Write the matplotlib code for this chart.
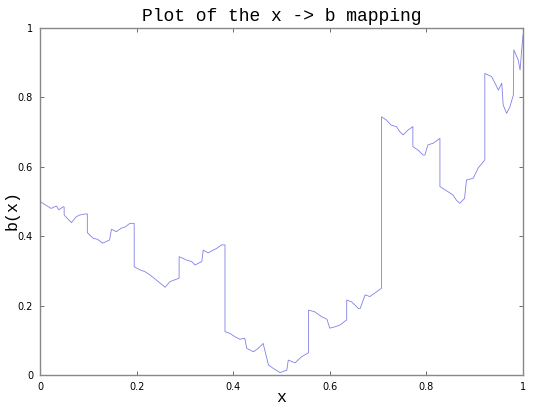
import matplotlib
matplotlib.use("Agg")
import matplotlib.pyplot as plt

# Data (step-like fractal curve)
x_vals = [0.000, 0.023, 0.034, 0.039, 0.048, 0.050, 0.050, 0.065, 0.075, 0.082, 0.093, 0.098, 0.098,
          0.110, 0.119, 0.130, 0.144, 0.148, 0.158, 0.168, 0.177, 0.186, 0.195, 0.195,
          0.207, 0.217, 0.228, 0.245, 0.259, 0.269, 0.288, 0.288, 0.304, 0.314, 0.321, 0.335,
          0.338, 0.348, 0.359, 0.366, 0.376, 0.383, 0.383,
          0.393, 0.404, 0.414, 0.424, 0.428, 0.442, 0.452, 0.462, 0.473, 0.483, 0.497,
          0.511, 0.514, 0.528, 0.542, 0.556, 0.556, 0.569, 0.583, 0.594, 0.600, 0.611, 0.621,
          0.635, 0.635, 0.645, 0.659, 0.663, 0.673, 0.683, 0.697, 0.707, 0.707,
          0.717, 0.727, 0.738, 0.745, 0.752, 0.762, 0.772, 0.772, 0.783, 0.793, 0.797, 0.803,
          0.814, 0.828, 0.828, 0.845, 0.855, 0.862, 0.869, 0.879, 0.883, 0.897, 0.907,
          0.921, 0.921, 0.935, 0.942, 0.949, 0.956, 0.959, 0.966, 0.973, 0.980, 0.981,
          0.990, 0.994, 0.997, 1.000]
b_vals = [0.500, 0.480, 0.487, 0.476, 0.485, 0.484, 0.461, 0.439, 0.456, 0.461, 0.464, 0.464, 0.410,
          0.394, 0.391, 0.380, 0.389, 0.420, 0.413, 0.423, 0.427, 0.437, 0.437, 0.312,
          0.303, 0.298, 0.288, 0.269, 0.253, 0.269, 0.279, 0.341, 0.331, 0.327, 0.317, 0.327,
          0.360, 0.352, 0.360, 0.365, 0.375, 0.375, 0.125,
          0.120, 0.110, 0.103, 0.106, 0.077, 0.067, 0.077, 0.091, 0.029, 0.019, 0.007,
          0.014, 0.043, 0.035, 0.053, 0.064, 0.187, 0.182, 0.168, 0.161, 0.135, 0.139, 0.144,
          0.159, 0.216, 0.211, 0.192, 0.192, 0.231, 0.226, 0.240, 0.250, 0.744,
          0.735, 0.720, 0.716, 0.701, 0.692, 0.706, 0.716, 0.658, 0.648, 0.634, 0.634, 0.663,
          0.668, 0.682, 0.543, 0.528, 0.519, 0.504, 0.495, 0.509, 0.562, 0.567, 0.596,
          0.620, 0.869, 0.860, 0.841, 0.821, 0.841, 0.778, 0.754, 0.773, 0.807, 0.937,
          0.908, 0.879, 0.932, 0.980]

ticks = [0, 0.2, 0.4, 0.6, 0.8, 1.0]
tick_labels = ["0", "0.2", "0.4", "0.6", "0.8", "1"]

fig = plt.figure(figsize=(5.4, 4.05), dpi=100)
ax = fig.add_axes([40/540, 30/405, 483/540, 347/405])
ax.plot(x_vals, b_vals, color="#8080e8", lw=0.6)
ax.set_xlim(0, 1)
ax.set_ylim(0, 1)
ax.set_xticks(ticks)
ax.set_xticklabels(tick_labels)
ax.set_yticks(ticks)
ax.set_yticklabels(tick_labels)
ax.tick_params(direction="in", length=3, width=0.6, colors="#555555", labelsize=7,
               top=True, right=True, labelcolor="black", pad=5)
for s in ax.spines.values():
    s.set_color("#888888")
    s.set_linewidth(1.0)

mono = "Liberation Mono"
ax.set_title("Plot of the x -> b mapping", family=mono, fontsize=13, pad=5)
fig.text(281/540, 1 - 398/405, "x", family=mono, fontsize=12, ha="center", va="center")
fig.text(12/540, 1 - 210/405, "b(x)", family=mono, fontsize=12, ha="center", va="center",
         rotation=90)

fig.savefig("out.png", dpi=100)
